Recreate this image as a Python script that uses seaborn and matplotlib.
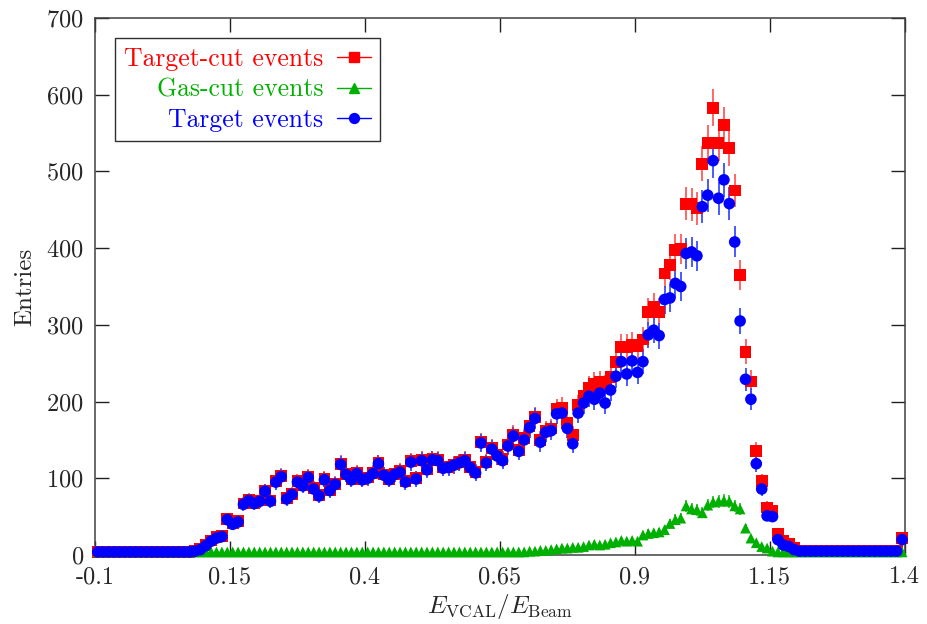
#!/usr/bin/env python3

import numpy as np
import seaborn as sns
import matplotlib.pyplot as plt
from matplotlib.lines import Line2D

RED = "#ff0000"
GREEN = "#00b000"
BLUE = "#0000ff"

# histogram binning: 150 bins of 0.01 from -0.1 to 1.4
BIN_LO = -0.1
BIN_W = 0.01
N_BINS = 150

# Target-cut events (red squares)
target_cut = [
    4, 4, 4, 4, 4, 4, 4, 4, 4, 4,
    4, 4, 4, 4, 4, 4, 4, 4, 5, 8,
    13, 19, 23, 25, 47, 41, 44, 67, 72, 68,
    71, 84, 71, 96, 103, 74, 80, 96, 91, 102,
    87, 78, 99, 85, 93, 119, 106, 99, 107, 99,
    101, 107, 120, 105, 99, 106, 109, 96, 122, 100,
    124, 112, 125, 124, 114, 115, 118, 121, 124, 115,
    108, 147, 121, 139, 131, 125, 144, 157, 137, 152,
    168, 180, 150, 162, 165, 190, 192, 172, 156, 195,
    208, 218, 223, 225, 220, 232, 252, 271, 271, 274,
    272, 281, 317, 324, 317, 367, 378, 398, 399, 458,
    457, 452, 510, 537, 583, 537, 560, 530, 475, 365,
    265, 226, 136, 96, 62, 57, 27, 19, 14, 9,
    5, 5, 5, 5, 5, 5, 5, 5, 5, 5,
    5, 5, 5, 5, 5, 5, 5, 5, 5, 22,
]

# Gas-cut events (green triangles)
gas_cut = [
    4, 4, 4, 4, 4, 4, 4, 4, 4, 4,
    4, 4, 4, 4, 4, 4, 4, 4, 4, 4,
    4, 4, 4, 4, 4, 4, 4, 4, 4, 4,
    4, 4, 4, 4, 4, 4, 4, 4, 4, 4,
    4, 4, 4, 4, 4, 4, 4, 4, 4, 4,
    4, 4, 4, 4, 4, 4, 4, 4, 4, 4,
    4, 4, 4, 4, 4, 4, 4, 4, 4, 4,
    4, 4, 4, 4, 4, 4, 4, 4, 4, 4,
    5, 5, 6, 6, 7, 8, 9, 9, 10, 10,
    11, 13, 14, 13, 14, 16, 17, 19, 18, 19,
    18, 26, 28, 29, 30, 33, 41, 46, 48, 64,
    60, 59, 55, 65, 69, 70, 71, 70, 64, 60,
    35, 22, 16, 11, 9, 5, 4, 4, 4, 4,
    4, 4, 4, 4, 4, 4, 4, 4, 4, 4,
    4, 4, 4, 4, 4, 4, 4, 4, 4, 4,
]

# Target events (blue circles)
target = [
    4, 4, 4, 4, 4, 4, 4, 4, 4, 4,
    4, 4, 4, 4, 4, 4, 4, 4, 5, 7,
    12, 18, 22, 24, 46, 40, 43, 66, 71, 67,
    70, 83, 70, 95, 102, 73, 79, 95, 90, 101,
    86, 77, 98, 84, 92, 118, 105, 98, 106, 98,
    100, 106, 119, 104, 98, 105, 108, 95, 121, 99,
    123, 111, 124, 123, 113, 114, 117, 120, 123, 114,
    107, 146, 120, 138, 129, 123, 142, 155, 135, 150,
    166, 178, 147, 160, 162, 184, 185, 165, 145, 185,
    198, 207, 203, 211, 198, 215, 233, 252, 236, 253,
    238, 252, 287, 293, 286, 333, 335, 354, 350, 393,
    395, 390, 454, 469, 514, 465, 489, 458, 408, 305,
    229, 203, 119, 86, 51, 50, 20, 13, 11, 7,
    5, 5, 5, 5, 5, 5, 5, 5, 5, 5,
    5, 5, 5, 5, 5, 5, 5, 5, 5, 20,
]

xticks = [-0.1, 0.15, 0.4, 0.65, 0.9, 1.15, 1.4]
xtick_labels = ["-0.1", "0.15", "0.4", "0.65", "0.9", "1.15", "1.4"]
yticks = [0, 100, 200, 300, 400, 500, 600, 700]

SERIES = [
    ("Target-cut events", target_cut, RED, "#ff5a5a", "s", 72),
    ("Gas-cut events", gas_cut, GREEN, "#40c040", "^", 60),
    ("Target events", target, BLUE, "#3a4dff", "o", 70),
]


def main():
    sns.set_theme(style="ticks")
    plt.rcParams["font.family"] = ["cmr10", "DejaVu Serif"]
    plt.rcParams["mathtext.fontset"] = "cm"
    plt.rcParams["axes.formatter.use_mathtext"] = True
    plt.rcParams["axes.unicode_minus"] = False

    fig = plt.figure(figsize=(9.27, 6.24), dpi=100)
    ax = fig.add_axes([0.1025, 0.1106, 0.8735, 0.8606])

    centers = BIN_LO + BIN_W * (np.arange(N_BINS) + 0.5)

    handles = []
    for name, counts, color, ecolor, marker, size in SERIES:
        counts = np.array(counts, dtype=float)
        # poisson error bars
        ax.errorbar(
            centers, counts, yerr=np.sqrt(counts),
            fmt="none", ecolor=ecolor, elinewidth=1.3, capsize=0, zorder=2,
        )
        sns.scatterplot(
            x=centers, y=counts, ax=ax, marker=marker, color=color,
            s=size, edgecolor="none", linewidth=0, zorder=3, clip_on=False,
        )
        handles.append(
            Line2D([], [], color=color, marker=marker, linewidth=1.0,
                   markersize=np.sqrt(size) * 0.85, label=name)
        )

    ax.set_xlim(-0.1, 1.4)
    ax.set_ylim(0, 700)
    ax.set_xticks(xticks)
    ax.set_xticklabels(xtick_labels)
    ax.set_yticks(yticks)

    ax.tick_params(direction="in", top=True, right=True, length=10,
                   width=1.0, labelsize=17.5, pad=8, color="#202020")
    for spine in ax.spines.values():
        spine.set_color("#404040")
        spine.set_linewidth(1.1)

    ax.set_xlabel(r"$E_{\mathrm{VCAL}}/E_{\mathrm{Beam}}$", fontsize=18,
                  labelpad=3)
    ax.set_ylabel("Entries", fontsize=18, labelpad=7)

    leg = ax.legend(
        handles=handles,
        loc="upper left",
        bbox_to_anchor=(0.0247, 0.963),
        borderaxespad=0,
        markerfirst=False,
        labelcolor="linecolor",
        fontsize=18.5,
        frameon=True,
        fancybox=False,
        framealpha=1,
        edgecolor="#303030",
        handlelength=1.3,
        handletextpad=0.55,
        labelspacing=0.28,
        borderpad=0.35,
    )
    leg.get_frame().set_linewidth(1.0)

    plt.savefig("out.png", dpi=100)


if __name__ == "__main__":
    main()
